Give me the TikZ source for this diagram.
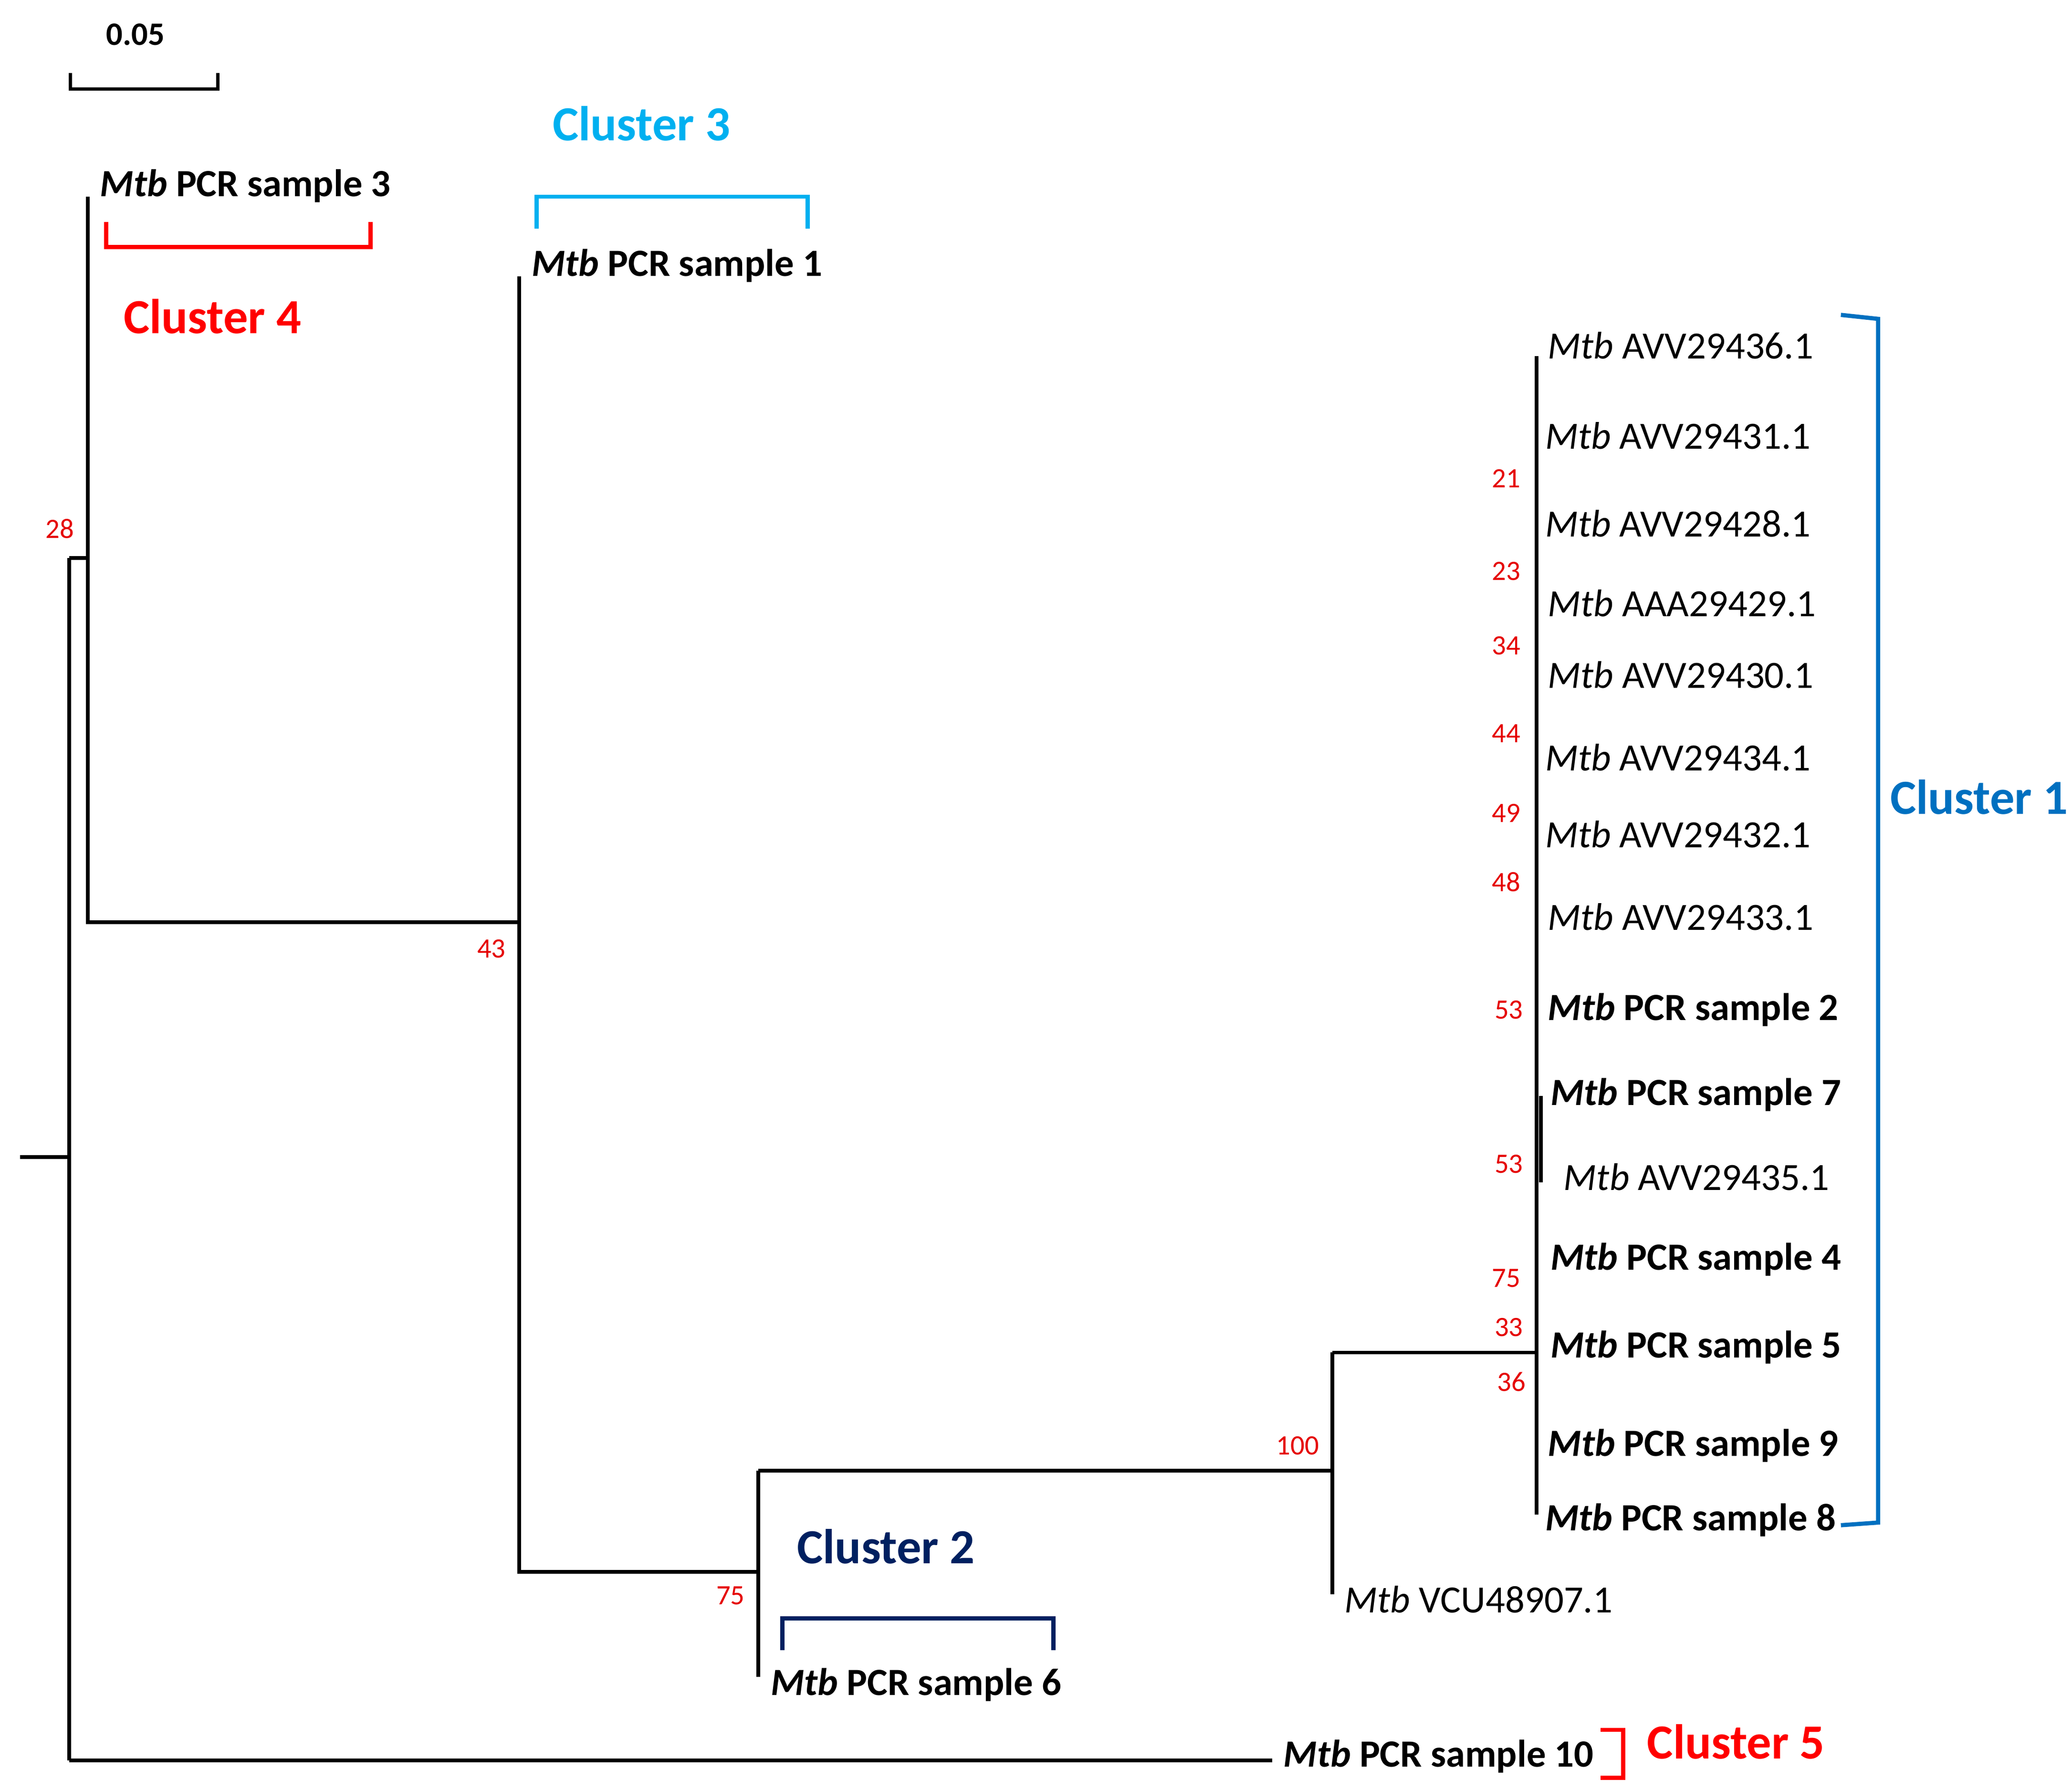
\documentclass[tikz,border=0pt]{standalone}
\usepackage{fontspec}
\setmainfont{Carlito}
\begin{document}
\begin{tikzpicture}[x=0.02cm,y=-0.02cm,
  br/.style={line width=1.6pt},
  bs/.style={text=red!90!black,font=\fontsize{12}{12}\selectfont,inner sep=0},
  lf/.style={anchor=west,inner sep=0,font=\fontsize{16.5}{16}\selectfont},
  pcr/.style={lf,font=\fontsize{16.5}{16}\selectfont\bfseries},
  cl/.style={inner sep=0,font=\fontsize{21}{21}\selectfont\bfseries}]
\useasboundingbox (0,0) rectangle (1560,1347);
\definecolor{cA}{RGB}{0,112,192}\definecolor{cC}{RGB}{0,176,240}\definecolor{cN}{RGB}{0,32,96}
% scale bar
\draw[line width=1.3pt] (53,55) -- (53,67) -- (164,67) -- (164,55);
\node[inner sep=0,font=\fontsize{14}{14}\selectfont\bfseries] (sc) at (102,26) {0.05};
% tree
\coordinate (r0) at (15,871); \coordinate (r) at (52,871);
\draw[br] (r0) -- (r);
\draw[br] (52,420) -- (52,1325);
\draw[br] (52,420) -- (66,420);
\draw[br] (66,148) -- (66,694) -- (391,694);
\draw[br] (391,208) -- (391,1183) -- (571,1183);
\draw[br] (571,1107) -- (571,1262);
\draw[br] (571,1107) -- (1003,1107);
\draw[br] (1003,1018) -- (1003,1200);
\draw[br] (1003,1018) -- (1157,1018);
\draw[br] (1157,268) -- (1157,1140);
\draw[br] (1160,825) -- (1160,890);
\draw[br] (52,1325) -- (958,1325);
% leaves
\node[pcr] (s3) at (75,140) {\textit{Mtb} PCR sample 3};
\node[pcr] (s1) at (400,200) {\textit{Mtb} PCR sample 1};
\node[pcr] (s6) at (580,1268) {\textit{Mtb} PCR sample 6};
\node[lf] (vcu) at (1012,1204) {\textit{Mtb} VCU48907.1};
\node[pcr] (s10) at (966,1322) {\textit{Mtb} PCR sample 10};
\node[lf] (a1) at (1165,260) {\textit{Mtb} AVV29436.1};
\node[lf] (a2) at (1163,328) {\textit{Mtb} AVV29431.1};
\node[lf] (a3) at (1163,394) {\textit{Mtb} AVV29428.1};
\node[lf] (a4) at (1165,454) {\textit{Mtb} AAA29429.1};
\node[lf] (a5) at (1165,508) {\textit{Mtb} AVV29430.1};
\node[lf] (a6) at (1163,570) {\textit{Mtb} AVV29434.1};
\node[lf] (a7) at (1163,628) {\textit{Mtb} AVV29432.1};
\node[lf] (a8) at (1165,690) {\textit{Mtb} AVV29433.1};
\node[pcr] (s2) at (1165,760) {\textit{Mtb} PCR sample 2};
\node[pcr] (s7) at (1167,824) {\textit{Mtb} PCR sample 7};
\node[lf] (a9) at (1177,886) {\textit{Mtb} AVV29435.1};
\node[pcr] (s4) at (1167,948) {\textit{Mtb} PCR sample 4};
\node[pcr] (s5) at (1167,1014) {\textit{Mtb} PCR sample 5};
\node[pcr] (s9) at (1165,1088) {\textit{Mtb} PCR sample 9};
\node[pcr] (s8) at (1163,1144) {\textit{Mtb} PCR sample 8};
% bootstrap
\node[bs] (b1) at (45,398) {28};
\node[bs] (b2) at (370,714) {43};
\node[bs] (b3) at (550,1201) {75};
\node[bs] (b4) at (977,1088) {100};
\node[bs] (b5) at (1134,360) {21};
\node[bs] (b6) at (1134,430) {23};
\node[bs] (b7) at (1134,486) {34};
\node[bs] (b8) at (1134,552) {44};
\node[bs] (b9) at (1134,612) {49};
\node[bs] (b10) at (1134,664) {48};
\node[bs] (b11) at (1136,760) {53};
\node[bs] (b12) at (1136,876) {53};
\node[bs] (b13) at (1134,962) {75};
\node[bs] (b14) at (1136,999) {33};
\node[bs] (b15) at (1138,1040) {36};
% clusters
\draw[cA,line width=1.8pt] (1386,237) -- (1414,240) -- (1414,1146) -- (1386,1148);
\node[cl,text=cA] (c1) at (1490,600) {Cluster 1};
\draw[cC,line width=1.8pt] (404,172) -- (404,148) -- (608,148) -- (608,172);
\node[cl,text=cC] (c3) at (483,93) {Cluster 3};
\draw[red,line width=1.8pt] (80,167) -- (80,186) -- (279,186) -- (279,167);
\node[cl,text=red] (c4) at (160,238) {Cluster 4};
\draw[cN,line width=1.8pt] (589,1242) -- (589,1218) -- (793,1218) -- (793,1242);
\node[cl,text=cN] (c2) at (667,1164) {Cluster 2};
\draw[red,line width=1.8pt] (1205,1302) -- (1222,1302) -- (1222,1338) -- (1205,1338);
\node[cl,text=red] (c5) at (1307,1311) {Cluster 5};
\end{tikzpicture}
\end{document}
